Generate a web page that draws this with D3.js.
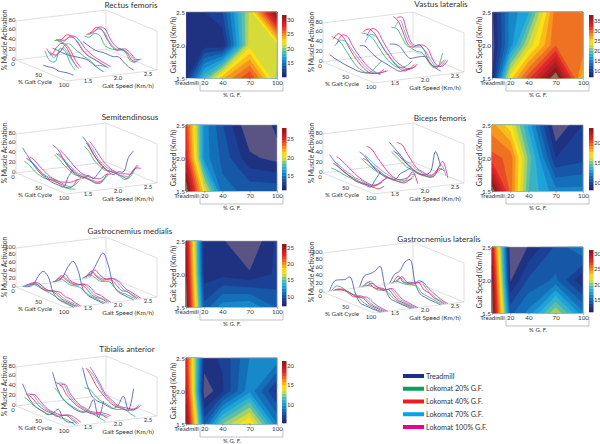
<!DOCTYPE html>
<html>
<head>
<meta charset="utf-8">
<script src="https://cdn.jsdelivr.net/npm/d3@7"></script>
<style>
html,body{margin:0;padding:0;background:#fff}
svg{display:block}
text{font-family:Lato,sans-serif;fill:#333}
.tick line{stroke:#777;stroke-width:.5}
.domain{display:none}
</style>
</head>
<body>
<svg id="fig" width="600" height="444"></svg>
<script>
const _=null;
const cycle=[0,10,20,30,40,50,60,70,80,90,100];
const speeds=[1.5,2,2.5];
const gfTicks=[0,20,40,70,100];
const conditions=["Treadmill","Lokomat 20% G.F.","Lokomat 40% G.F.","Lokomat 70% G.F.","Lokomat 100% G.F."];
const condColors=["#3f4fa9","#2aa86a","#ec1c3c","#29abe2","#ec1c8c"];
const legendColors=["#1b2f8a","#0f9d58","#ed1c24","#00a5e5","#ec008c"];

// activation curves, one list per speed
const rectusT=[[_,_,_,_,5,6,8,6,8,10,10],[15,15,14,14,16,18,20,20,16,12,10],[22,18,15,14,16,16,16,20,14,8,6]];
const rectusG20=[[_,_,_,_,34,18,20,52,50,30,20],[30,34,32,36,30,26,22,20,14,18,20],[32,34,46,46,30,28,30,36,34,20,20]];
const rectusG40=[[_,_,_,_,38,30,50,62,56,38,25],[32,36,50,52,46,34,26,24,22,20,18],[34,44,58,58,44,32,28,34,32,20,22]];
const rectusG70=[[_,_,_,_,32,24,36,52,42,30,22],[28,30,44,48,42,30,24,22,20,18,16],[34,42,54,54,40,30,28,32,30,22,24]];
const rectusG100=[[_,_,_,_,30,28,40,58,50,34,24],[30,34,46,50,44,34,28,24,22,20,18],[36,46,58,58,42,32,30,34,30,22,26]];

const vastusT=[[14,10,8,6,5,4,4,6,10,14,16],[24,28,22,16,12,10,8,6,6,14,20],[20,24,24,14,8,14,20,24,14,10,8]];
const vastusG20=[[50,50,44,32,20,10,6,6,14,30,44],[50,52,50,40,28,18,12,10,14,22,36],[54,56,44,30,28,26,28,18,8,10,44]];
const vastusG40=[[44,60,56,42,28,18,10,6,8,14,26],[52,62,60,48,34,24,14,8,6,14,28],[76,70,50,30,30,40,34,14,8,14,30]];
const vastusG70=[[30,46,48,40,30,20,12,8,8,14,22],[30,50,52,42,30,20,12,8,8,14,24],[54,72,50,32,30,34,30,16,8,12,30]];
const vastusG100=[[34,56,58,44,32,22,14,10,8,14,22],[42,62,62,48,34,22,14,10,10,16,28],[72,78,52,32,32,38,36,18,8,12,28]];

const semiT=[[50,38,26,16,10,6,4,4,4,30,50],[48,44,30,18,10,6,6,16,14,30,48],[58,48,32,22,14,8,6,16,20,54,72]];
const semiG20=[[22,18,10,6,4,6,8,4,2,4,8],[28,22,14,8,4,6,8,6,4,8,24],[38,30,16,10,6,8,10,6,4,14,36]];
const semiG40=[[28,24,18,10,6,4,4,4,2,8,28],[30,26,18,10,6,4,4,4,4,12,32],[44,34,20,10,6,6,6,6,6,24,42]];
const semiG70=[[26,22,14,8,6,6,6,4,4,10,24],[30,24,16,10,6,6,4,4,6,16,30],[44,34,20,12,8,6,4,6,10,28,40]];
const semiG100=[[30,26,18,12,6,4,4,8,12,20,28],[36,30,22,14,8,6,6,8,12,24,30],[46,36,24,14,8,6,6,10,14,30,34]];

const bicepsT=[[36,26,18,12,8,4,4,4,4,24,44],[34,30,20,12,8,4,6,8,24,34,44],[46,38,30,20,12,8,6,10,20,66,40]];
const bicepsG20=[[8,8,6,4,4,2,2,4,4,12,22],[20,14,10,6,4,4,2,4,6,14,22],[26,20,14,8,6,4,4,6,10,24,36]];
const bicepsG40=[[18,14,10,6,4,2,2,2,2,4,14],[20,18,12,8,4,2,2,2,4,14,28],[28,24,16,12,6,4,4,4,10,30,30]];
const bicepsG70=[[20,16,10,8,4,4,2,2,6,16,30],[26,20,14,10,6,4,4,4,10,24,30],[24,24,16,14,8,6,4,6,18,38,20]];
const bicepsG100=[[30,26,20,14,8,4,2,2,8,20,30],[44,42,30,20,10,4,2,6,14,30,10],[44,44,30,18,8,6,4,8,24,44,14]];

const gmedT=[[0,4,14,40,60,52,16,4,2,1,0],[2,10,26,56,76,58,14,4,2,1,0],[2,14,32,62,88,64,18,4,2,1,0]];
const gmedG20=[[1,8,14,12,10,9,6,2,1,1,1],[2,16,14,10,12,14,8,3,2,1,1],[2,16,14,10,14,18,8,3,4,3,2]];
const gmedG40=[[1,12,16,10,9,13,10,3,2,1,1],[2,22,16,12,14,20,14,4,3,5,1],[2,24,16,12,18,22,14,6,10,5,2]];
const gmedG70=[[1,10,12,10,9,14,11,5,3,2,1],[2,20,14,12,14,22,16,6,4,4,1],[2,20,14,14,20,26,18,8,6,4,2]];
const gmedG100=[[1,13,14,8,7,12,14,8,8,3,1],[2,24,14,12,14,20,18,8,8,4,1],[2,26,18,14,20,24,20,10,8,5,2]];

const glatT=[[1,32,40,46,58,24,2,1,0,0,0],[1,36,46,58,76,28,4,2,1,1,0],[1,30,44,72,84,30,6,3,1,1,0]];
const glatG20=[[1,18,20,16,14,16,6,2,1,0,0],[2,10,14,10,14,16,8,3,1,1,0],[2,12,12,14,18,20,8,6,4,2,1]];
const glatG40=[[1,10,14,10,6,12,12,4,2,1,0],[2,18,10,12,14,20,10,3,2,1,0],[2,24,14,16,20,30,16,14,6,4,1]];
const glatG70=[[1,8,12,10,8,14,12,5,2,1,0],[2,20,14,12,14,22,12,4,2,1,0],[2,20,12,18,24,34,20,12,5,3,1]];
const glatG100=[[1,6,8,6,4,10,14,8,3,1,0],[2,14,10,12,14,22,14,5,3,1,0],[2,22,12,16,22,30,22,14,8,3,1]];

const tibT=[[44,24,12,6,4,2,10,22,6,4,8],[60,30,14,8,4,2,4,14,38,6,44],[62,28,10,6,6,4,4,16,38,14,62]];
const tibG20=[[16,12,6,4,2,2,6,4,6,4,2],[28,20,10,6,4,2,4,8,6,4,2],[20,22,14,8,6,4,2,6,10,6,4]];
const tibG40=[[22,20,12,6,4,4,2,8,12,8,4],[38,36,22,14,8,6,4,4,8,10,8],[60,48,32,22,14,8,6,8,8,14,22]];
const tibG70=[[22,24,14,8,4,4,2,8,12,8,4],[36,40,24,14,8,6,4,4,8,10,10],[58,50,38,22,14,8,6,6,8,12,28]];
const tibG100=[[20,24,16,8,4,4,4,8,12,10,6],[30,38,24,14,8,6,4,6,10,12,12],[62,50,36,20,14,8,6,8,10,14,26]];

// contour grids: rows 1.5, 2.0, 2.5; columns treadmill, 20, 40, 70, 100
const rectusGrid=[11.5,18,23,26.5,19.8, 11,11.5,11,20.8,20.8, 11,12,13,20.5,31];
const vastusGrid=[8,24,30,38,25, 7.5,15,22,29,29, 8,15,17,28.5,28.5];
const semiGrid=[28,20,14.5,14,14, 25,15.5,14,12,11.5, 24,15.5,13.5,11,12];
const bicepsGrid=[23.5,19,14,12,12, 19.5,19,14.5,9.5,10, 18,16.5,13,8,9.5];
const gmedGrid=[26,10,12,12.3,10.5, 25,8.3,8.5,8,9, 24,8,8,7,9];
const glatGrid=[31,14.5,16,20.5,16, 30,11.8,14,15,12, 28,11,12,14,16];
const tibGrid=[20.5,8,12,14.5,9, 19,5.3,6.6,9.5,6.5, 18,6.5,6.8,9,9.5];

const muscles=[
 {title:"Rectus femoris",curves:[rectusT,rectusG20,rectusG40,rectusG70,rectusG100],grid:rectusGrid,range:[10,31.5],bar:[15,20,25,30],zMax:80,
  o:[16,60],heat:[186,12],cb:282,t:[131,8]},
 {title:"Vastus lateralis",curves:[vastusT,vastusG20,vastusG40,vastusG70,vastusG100],grid:vastusGrid,range:[7,38],bar:[10,15,20,25,30,35],zMax:80,
  o:[323,62],heat:[492,12],cb:589,t:[441,7]},
 {title:"Semitendinosus",curves:[semiT,semiG20,semiG40,semiG70,semiG100],grid:semiGrid,range:[11,28],bar:[15,20,25],zMax:80,
  o:[16,173],heat:[186,125],cb:282,t:[130,120]},
 {title:"Biceps femoris",curves:[bicepsT,bicepsG20,bicepsG40,bicepsG70,bicepsG100],grid:bicepsGrid,range:[8,23.7],bar:[10,15,20],zMax:80,
  o:[323,173],heat:[492,125],cb:589,t:[440,121]},
 {title:"Gastrocnemius medialis",curves:[gmedT,gmedG20,gmedG40,gmedG70,gmedG100],grid:gmedGrid,range:[7,26],bar:[10,15,20,25],zMax:100,
  o:[16,287],heat:[186,241],cb:282,t:[130,234]},
 {title:"Gastrocnemius lateralis",curves:[glatT,glatG20,glatG40,glatG70,glatG100],grid:glatGrid,range:[11,31],bar:[15,20,25,30],zMax:100,
  o:[323,292],heat:[492,247],cb:589,t:[439,242]},
 {title:"Tibialis anterior",curves:[tibT,tibG20,tibG40,tibG70,tibG100],grid:tibGrid,range:[5.2,21.1],bar:[10,15,20],zMax:80,
  o:[16,406],heat:[186,358],cb:282,t:[127,352]}
];

const svg=d3.select("#fig");
const condShift=[-.14,-.11,-.08,-.05,-.02];
const ramp=d3.scaleLinear()
  .domain([0,.1,.22,.33,.42,.5,.58,.68,.84,1])
  .range(["#24246e","#1a3f94","#1273bb","#1fa9de","#5dbfa8","#c6d84a","#fbe216","#f59a1d","#e3272a","#8f1a1f"]);
const nLevels=20,lowGrey="#5a5484",highGrey="#8a7460";

function draw3d(g,m){
  const cx=d3.scaleLinear().domain([0,100]).range([0,51]);
  const cy=d3.scaleLinear().domain([0,100]).range([0,21]);
  const sx=d3.scaleLinear().domain([1.25,2.75]).range([0,90]);
  const sy=d3.scaleLinear().domain([1.25,2.75]).range([0,-11]);
  const z=d3.scaleLinear().domain([0,m.zMax]).range([0,-39]);
  const px=(c,s)=>cx(c)+sx(s);
  const py=(c,s,v)=>cy(c)+sy(s)+z(v);

  const sMin=1.25,sMax=2.75,zM=m.zMax;
  const poly=(pts)=>g.append("path").attr("fill","none").attr("stroke","#c9c9c9").attr("stroke-width",.6)
    .attr("d",d3.line().x(d=>px(d[0],d[1])).y(d=>py(d[0],d[1],d[2]))(pts));
  poly([[0,sMin,0],[100,sMin,0],[100,sMax,0],[0,sMax,0],[0,sMin,0]]);
  poly([[0,sMin,0],[0,sMin,zM],[0,sMax,zM],[100,sMax,zM],[100,sMax,0]]);
  poly([[0,sMax,0],[0,sMax,zM]]);

  d3.range(0,zM+1,20).forEach(v=>{
    g.append("text").attr("x",px(0,sMin)-.5).attr("y",py(0,sMin,v)+.5).attr("text-anchor","end").attr("font-size",6).text(v);
  });
  [0,50,100].forEach(c=>{
    g.append("text").attr("x",px(c,sMin)-3).attr("y",py(c,sMin,0)+6).attr("text-anchor","middle").attr("font-size",6).text(c);
  });
  [1.5,2,2.5].forEach(s=>{
    g.append("text").attr("x",px(100,s)+6).attr("y",py(100,s,0)+4).attr("text-anchor","middle").attr("font-size",6).text(d3.format(".1f")(s));
  });
  g.append("text").attr("x",19).attr("y",24).attr("text-anchor","middle").attr("font-size",6.2).text("% Gait Cycle");
  g.append("text").attr("x",112).attr("y",28).attr("text-anchor","middle").attr("font-size",6.4).text("Gait Speed (Km/h)");
  g.append("text").attr("transform","translate(-9.5,-20) rotate(-90)").attr("text-anchor","middle").attr("font-size",6.8).text("% Muscle Activation");

  const line=(s)=>d3.line().defined(d=>d.v!==null).curve(d3.curveCatmullRom.alpha(.5))
    .x(d=>px(d.c,s)).y(d=>py(d.c,s,d.v));
  m.curves.forEach((perSpeed,ci)=>{
    perSpeed.forEach((vals,si)=>{
      const pts=vals.map((v,i)=>({c:cycle[i],v}));
      g.append("path").attr("fill","none").attr("stroke",condColors[ci]).attr("stroke-width",.8)
        .attr("d",line(speeds[si]+condShift[ci])(pts));
    });
  });
}

function drawHeat(g,m){
  const w=91,h=66;
  const x=d3.scaleLinear().domain([0,100]).range([0,w]);
  const y=d3.scaleLinear().domain([1.5,2.5]).range([h,0]);
  // grid index to pixel, contour points sit at index+0.5
  const gx=d3.scaleLinear().domain(gfTicks.map((d,i)=>i+.5)).range(gfTicks.map(x)).clamp(true);
  const gy=d3.scaleLinear().domain(speeds.map((d,i)=>i+.5)).range(speeds.map(y)).clamp(true);
  const path=d3.geoPath(d3.geoTransform({point(a,b){this.stream.point(gx(a),gy(b));}}));

  const [lo,hi]=m.range;
  const step=(hi-lo)/(nLevels+1);
  const th=d3.range(1,nLevels+1).map(i=>lo+i*step);
  g.append("rect").attr("width",w).attr("height",h).attr("fill",lowGrey);
  d3.contours().size([gfTicks.length,speeds.length]).thresholds(th)(m.grid).forEach((c,i)=>{
    const col=i===nLevels-1?highGrey:ramp((i+1)/(nLevels-1));
    g.append("path").attr("d",path(c)).attr("fill",col).attr("stroke",col).attr("stroke-width",.2);
  });
  g.append("path").attr("fill","none").attr("stroke","#aaa").attr("stroke-width",.5).attr("d",d3.line()([[0,0],[w,0],[w,h]]));

  const xa=g.append("g").attr("transform",`translate(0,${h})`)
    .call(d3.axisBottom(x).tickValues(gfTicks).tickSize(2).tickPadding(1).tickFormat(d=>d===0?"Treadmill":d));
  xa.selectAll("text").attr("font-size",6.2).style("font-family","Lato,sans-serif");
  const ya=g.append("g").call(d3.axisLeft(y).tickValues(speeds).tickSize(0).tickPadding(1).tickFormat(d3.format(".1f")));
  ya.selectAll("text").attr("font-size",6.4).style("font-family","Lato,sans-serif");

  g.append("path").attr("fill","none").attr("stroke","#999").attr("stroke-width",.6)
    .attr("d",d3.line()([[14,h+4],[14,h+13],[97,h+13],[97,h+4]]));
  g.append("text").attr("x",46).attr("y",h+19).attr("text-anchor","middle").attr("font-size",6).text("% G. F.");
  g.append("text").attr("transform",`translate(-10.5,${h/2}) rotate(-90)`).attr("text-anchor","middle").attr("font-size",7).text("Gait Speed (Km/h)");
}

function drawBar(g,m){
  const h=62,wd=4.5;
  const c=d3.scaleLinear().domain(m.range).range([h,0]);
  const steps=d3.range(0,nLevels+1);
  const by=d3.scaleLinear().domain([0,nLevels+1]).range([h,0]);
  g.selectAll("rect").data(steps).join("rect")
    .attr("x",0).attr("width",wd)
    .attr("y",d=>by(d+1))
    .attr("height",h/(nLevels+1)+.3)
    .attr("fill",d=>ramp(d/nLevels));
  const a=g.append("g").attr("transform",`translate(${wd},0)`).call(d3.axisRight(c).tickValues(m.bar).tickSize(0).tickPadding(.5));
  a.selectAll("text").attr("font-size",6).style("font-family","Lato,sans-serif");
}

muscles.forEach(m=>{
  svg.append("text").attr("x",m.t[0]).attr("y",m.t[1]).attr("text-anchor","middle").attr("font-size",8.2).text(m.title);
  draw3d(svg.append("g").attr("transform",`translate(${m.o[0]},${m.o[1]})`),m);
  drawHeat(svg.append("g").attr("transform",`translate(${m.heat[0]},${m.heat[1]})`),m);
  drawBar(svg.append("g").attr("transform",`translate(${m.cb},${m.heat[1]+3})`),m);
});

// legend
const ly=d3.scalePoint().domain(conditions).range([376,427]);
conditions.forEach((c,i)=>{
  svg.append("rect").attr("x",403).attr("y",ly(c)-2).attr("width",21).attr("height",4).attr("fill",legendColors[i]);
  svg.append("text").attr("x",426).attr("y",ly(c)+2.5).attr("font-size",7.2).text(c);
});
</script>
</body>
</html>
